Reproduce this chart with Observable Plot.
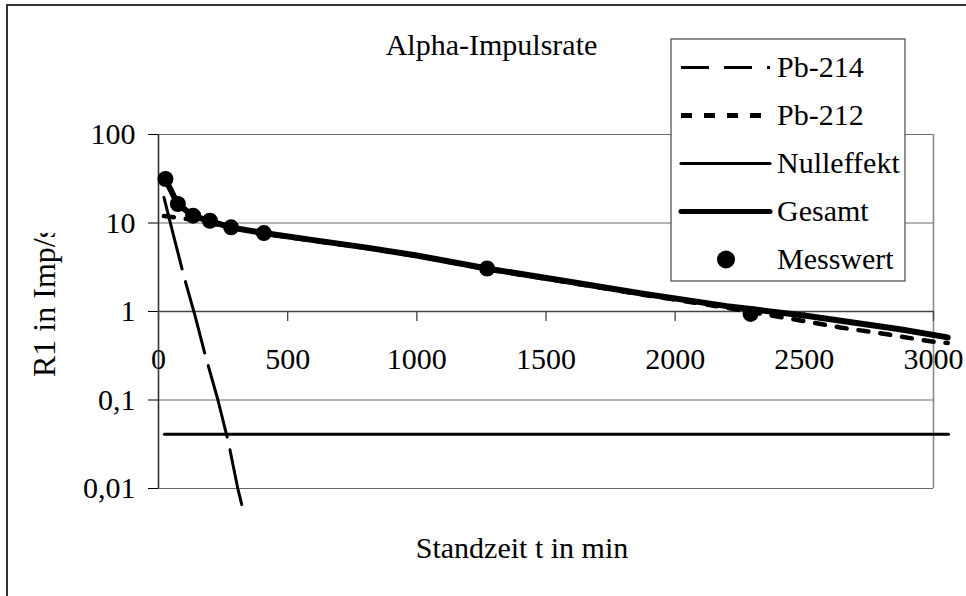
<!DOCTYPE html>
<html><head><meta charset="utf-8">
<script src="https://cdn.jsdelivr.net/npm/d3@7"></script>
<script src="https://cdn.jsdelivr.net/npm/@observablehq/plot@0.6"></script>
<style>
html,body{margin:0;padding:0;background:#fff;}
#wrap{position:relative;width:966px;height:596px;overflow:hidden;background:#fff;}
#wrap > svg{position:absolute;left:0;top:0;}
</style></head>
<body><div id="wrap"></div>
<script>
const FONT = "'Liberation Serif','Times New Roman',Times,serif";

// ---- data ----
const seriesNames = ["Pb-214", "Pb-212", "Nulleffekt", "Gesamt", "Messwert"];
const pb214T = [21, 60, 100, 140, 180, 230, 270, 307, 322];
const pb214V = [19.5, 6.9, 2.4, 0.93, 0.33, 0.1, 0.034, 0.01, 0.0066];
const pb212T = [21, 134, 199, 281, 408, 600, 800, 1000, 1272, 1580, 1870, 2200, 2395, 2640, 2807, 2988, 3055];
const pb212V = [12, 10.9, 9.9, 9.0, 7.6, 6.3, 5.25, 4.25, 3.0, 2.15, 1.56, 1.10, 0.88, 0.66, 0.56, 0.46, 0.44];
const nullT = [23, 3058];
const nullV = [0.041, 0.041];
const gesamtT = [27, 75, 134, 199, 281, 408, 600, 800, 1000, 1272, 1580, 1870, 2200, 2500, 2870, 3055];
const gesamtV = [31, 16.3, 12.0, 10.5, 8.9, 7.7, 6.4, 5.3, 4.3, 3.06, 2.2, 1.6, 1.15, 0.9, 0.63, 0.51];
const messT = [27, 75, 134, 199, 281, 408, 1272, 2292];
const messV = [31.4, 16.4, 12.1, 10.6, 8.94, 7.7, 3.06, 0.94];
const xTicks = [0, 500, 1000, 1500, 2000, 2500, 3000];
const yTicks = [100, 10, 1, 0.1, 0.01];
const yTickLabels = ["100", "10", "1", "0,1", "0,01"];
const titleText = "Alpha-Impulsrate";
const xLabelText = "Standzeit t in min";
const yLabelText = "R1 in Imp/s";

const rows = (T, V, s) => T.map((t, i) => ({t, v: V[i], s}));

// ---- styles ----
const styles = {
  "Pb-214": {type: "line", strokeWidth: 3, dash: "74,13", legendDash: "28,15", legendWidth: 3.2},
  "Pb-212": {type: "line", strokeWidth: 4.5, dash: "10,12", legendDash: "11,12", legendWidth: 5},
  "Nulleffekt": {type: "line", strokeWidth: 3, dash: null, legendDash: null, legendWidth: 3.2},
  "Gesamt": {type: "line", strokeWidth: 6, dash: null, legendDash: null, legendWidth: 5},
  "Messwert": {type: "dot", r: 8}
};

const plot = Plot.plot({
  width: 966, height: 596,
  marginLeft: 158, marginRight: 33, marginTop: 134, marginBottom: 108,
  x: {domain: [0, 3000], axis: null},
  y: {type: "log", domain: [0.01, 100], ticks: yTicks,
      tickFormat: d => yTickLabels[yTicks.indexOf(d)],
      tickSize: 10, tickPadding: 13, label: null},
  style: {fontFamily: FONT, fontSize: "30px", background: "transparent", color: "#000", overflow: "visible"},
  marks: [
    Plot.ruleY(yTicks, {stroke: "#6a6a6a", strokeWidth: 1.2}),
    Plot.ruleX([3000], {stroke: "#8a8a8a", strokeWidth: 1.6}),
    Plot.ruleX([0], {stroke: "#333", strokeWidth: 1.6}),
    Plot.ruleY([1], {stroke: "#444", strokeWidth: 1.3}),
    Plot.ruleX(xTicks, {x: d => d, y1: 1, y2: 1, insetBottom: -10, stroke: "#444", strokeWidth: 1.3}),
    Plot.text(xTicks, {x: d => d, y: 1, text: d => String(d), dy: 48, fill: "#000"}),
    Plot.line(rows(pb214T, pb214V, "Pb-214"), {x: "t", y: "v", stroke: "#000", strokeWidth: styles["Pb-214"].strokeWidth, strokeDasharray: styles["Pb-214"].dash}),
    Plot.line(rows(pb212T, pb212V, "Pb-212"), {x: "t", y: "v", stroke: "#000", strokeWidth: styles["Pb-212"].strokeWidth, strokeDasharray: styles["Pb-212"].dash}),
    Plot.line(rows(nullT, nullV, "Nulleffekt"), {x: "t", y: "v", stroke: "#000", strokeWidth: styles["Nulleffekt"].strokeWidth}),
    Plot.line(rows(gesamtT, gesamtV, "Gesamt"), {x: "t", y: "v", stroke: "#000", strokeWidth: styles["Gesamt"].strokeWidth, strokeLinejoin: "round", strokeLinecap: "round"}),
    Plot.dot(rows(messT, messV, "Messwert"), {x: "t", y: "v", r: styles["Messwert"].r, fill: "#000", stroke: "none"})
  ]
});
document.getElementById("wrap").appendChild(plot);

// ---- overlay: border, title, axis titles, legend ----
const svg = d3.select("#wrap").append("svg")
  .attr("width", 966).attr("height", 596)
  .style("font-family", FONT).style("pointer-events", "none");

svg.append("rect").attr("x", 7).attr("y", 5).attr("width", 2000).attr("height", 2000)
  .attr("fill", "none").attr("stroke", "#333").attr("stroke-width", 2);

svg.append("text").attr("x", 491.5).attr("y", 55).attr("text-anchor", "middle")
  .attr("font-size", 30).attr("fill", "#000").text(titleText);

svg.append("text").attr("x", 522).attr("y", 558).attr("text-anchor", "middle")
  .attr("font-size", 30).attr("fill", "#000").text(xLabelText);

const defs = svg.append("defs");
defs.append("clipPath").attr("id", "ylabclip").append("rect")
  .attr("x", 0).attr("y", 233).attr("width", 100).attr("height", 300);
svg.append("g").attr("clip-path", "url(#ylabclip)")
  .append("text").attr("transform", "translate(55,377) rotate(-90)")
  .attr("font-size", 32).attr("fill", "#000").text(yLabelText);

const lg = svg.append("g");
lg.append("rect").attr("x", 671).attr("y", 39).attr("width", 234).attr("height", 242)
  .attr("fill", "#fff").attr("stroke", "#555").attr("stroke-width", 1.3);
seriesNames.forEach((name, i) => {
  const cy = 67.5 + i * 48;
  const st = styles[name];
  if (st.type === "line") {
    const ln = lg.append("line").attr("x1", 681).attr("x2", 770).attr("y1", cy).attr("y2", cy)
      .attr("stroke", "#000").attr("stroke-width", st.legendWidth);
    if (st.legendDash) ln.attr("stroke-dasharray", st.legendDash);
    if (name === "Gesamt" || name === "Nulleffekt") ln.attr("stroke-linecap", "round");
  } else {
    lg.append("circle").attr("cx", 726).attr("cy", cy).attr("r", 9).attr("fill", "#000");
  }
  lg.append("text").attr("x", 777).attr("y", cy + 9.5).attr("font-size", 30).attr("fill", "#000").text(name);
});
</script>
</body></html>
